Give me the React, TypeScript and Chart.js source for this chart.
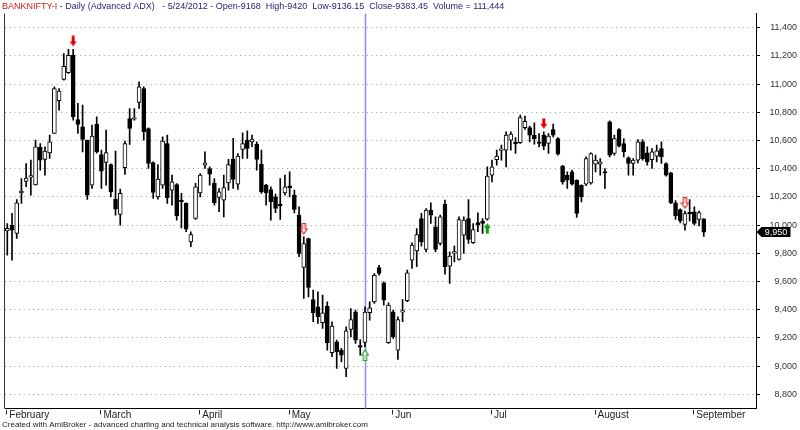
import React, { useEffect, useRef } from 'react';
import { Chart, registerables } from 'chart.js';

Chart.register(...registerables);

// ---- data (daily OHLC, BANKNIFTY-I, Feb..Sep 2012) ----
const opens = [
  9960, 9998, 9941, 10229, 10310, 10340, 10286, 10551, 10466, 10513,
  10650, 10882, 11033, 11082, 11205, 10749, 10697, 10603, 10284, 10716,
  10501, 10444, 10430, 10184, 10076, 10407, 10756, 10751, 10870, 10969,
  10685, 10444, 10201, 10284, 10579, 10248, 10288, 10172, 10154, 9882,
  10047, 10229, 10425, 10402, 10296, 10196, 10177, 10300, 10468, 10291,
  10537, 10603, 10591, 10574, 10433, 10284, 10253, 10201, 10145, 10229,
  10279, 10213, 10071, 9700, 9905, 9473, 9421, 9308, 9426, 9095,
  9173, 9114, 8984, 9260, 9386, 9145, 9168, 9379, 9456, 9700,
  9591, 9166, 9386, 9114, 9383, 9464, 9752, 9818, 10047, 9828,
  10106, 9988, 9870, 10149, 9710, 9802, 9757, 9929, 10047, 9875,
  10019, 10028, 10043, 10354, 10465, 10530, 10532, 10602, 10582, 10584,
  10692, 10692, 10638, 10591, 10638, 10579, 10678, 10614, 10418, 10354,
  10378, 10319, 10283, 10290, 10300, 10432, 10432, 10376, 10732, 10508,
  10678, 10579, 10477, 10437, 10461, 10591, 10513, 10465, 10489, 10543,
  10437, 10371, 10158, 10111, 10005, 10085, 10094, 10040, 10045,
];
const highs = [
  10012, 10083, 10182, 10331, 10437, 10461, 10603, 10579, 10556, 10638,
  10981, 10969, 11217, 11246, 11246, 10863, 10851, 10603, 10709, 10768,
  10532, 10674, 10435, 10525, 10255, 10596, 10827, 10827, 11016, 10981,
  10690, 10449, 10430, 10626, 10638, 10355, 10295, 10225, 10158, 9953,
  10296, 10366, 10520, 10414, 10331, 10260, 10355, 10466, 10615, 10508,
  10655, 10669, 10638, 10591, 10532, 10290, 10272, 10220, 10331, 10355,
  10378, 10248, 10130, 9917, 9908, 9539, 9527, 9504, 9456, 9315,
  9185, 9126, 9279, 9409, 9397, 9189, 9420, 9456, 9657, 9716,
  9598, 9450, 9398, 9350, 9473, 9681, 9875, 9976, 10083, 10118,
  10158, 10059, 10071, 10177, 9811, 9851, 10059, 10059, 10182, 10012,
  10088, 10047, 10414, 10461, 10532, 10567, 10662, 10662, 10621, 10780,
  10773, 10702, 10725, 10650, 10662, 10650, 10716, 10621, 10425, 10378,
  10390, 10322, 10286, 10484, 10513, 10496, 10472, 10402, 10739, 10638,
  10685, 10614, 10484, 10472, 10607, 10607, 10555, 10543, 10567, 10591,
  10442, 10374, 10175, 10115, 10100, 10182, 10130, 10100, 10047,
];
const lows = [
  9787, 9752, 9906, 10154, 10272, 10213, 10284, 10390, 10355, 10473,
  10650, 10815, 11028, 11075, 10745, 10650, 10520, 10182, 10260, 10510,
  10260, 10284, 10201, 10071, 10000, 10359, 10572, 10744, 10827, 10603,
  10402, 10189, 10184, 10260, 10154, 10142, 10036, 9981, 9953, 9847,
  10040, 10201, 10402, 10284, 10142, 10095, 10059, 10248, 10260, 10253,
  10473, 10473, 10556, 10390, 10225, 10142, 10036, 10088, 10040, 10213,
  10201, 10087, 9776, 9480, 9492, 9315, 9303, 9267, 9114, 9067,
  8984, 9031, 8925, 9208, 9161, 9078, 9136.15, 9327, 9445, 9646,
  9433, 9161, 9197, 9048, 9315, 9457, 9693, 9705, 9851, 9811,
  10012, 9811, 9858, 9653, 9587, 9740, 9752, 9799, 9870, 9870,
  9953, 9941, 10036, 10307, 10425, 10461, 10413, 10532, 10508, 10579,
  10678, 10591, 10574, 10555, 10536, 10508, 10626, 10496, 10291, 10260,
  10283, 10054, 10165, 10280, 10290, 10378, 10354, 10260, 10484, 10496,
  10555, 10484, 10354, 10354, 10442, 10461, 10425, 10402, 10449, 10437,
  10347, 10153, 10040, 10016, 9965, 10030, 10000, 9995, 9920,
];
const closes = [
  9977, 9965, 10158, 10241, 10333, 10347, 10556, 10461, 10525, 10591,
  10969, 10950, 11127, 11205, 10768, 10714, 10608, 10213, 10631, 10520,
  10383, 10515, 10236, 10114, 10225, 10579, 10685, 10760, 10981, 10662,
  10437, 10232, 10326, 10596, 10194, 10307, 10066, 10166, 9972, 9934,
  10272, 10355, 10442, 10362, 10158, 10236, 10267, 10430, 10324, 10489,
  10579, 10544, 10610, 10466, 10236, 10229, 10166, 10118, 10138, 10272,
  10265, 10111, 9799, 9870, 9558, 9379, 9350, 9379, 9166, 9284,
  9102, 9078, 9251, 9331, 9185, 9135, 9383.45, 9414, 9646, 9657,
  9468, 9433, 9209, 9331, 9390, 9662, 9858, 9934, 9882, 10106,
  10071, 9828, 10059, 9705, 9780, 9810, 10040, 10036, 9899, 9969,
  10000, 10012, 10348, 10413, 10489, 10537, 10638, 10645, 10576, 10763,
  10737, 10638, 10614, 10579, 10560, 10631, 10638, 10503, 10307, 10319,
  10291, 10083, 10201, 10472, 10508, 10461, 10449, 10370, 10496, 10614,
  10560, 10520, 10437, 10461, 10591, 10472, 10449, 10520, 10527, 10484,
  10354, 10158, 10065, 10030, 10082, 10080, 10012, 10090, 9950,
];

const monthLabels = ['February', 'March', 'April', 'May', 'Jun', 'Jul', 'August', 'September'];
const monthStartIdx = [0, 20, 41, 60, 82, 103, 125, 146];
const yTicks = [8800, 9000, 9200, 9400, 9600, 9800, 10000, 10200, 10400, 10600, 10800, 11000, 11200, 11400];

const sellIdx = [14, 114];
const sellWeakIdx = [63, 144];
const buyIdx = [102];
const buyWeakIdx = [76];

const selectedIdx = 76;
const selectedDate = '5/24/2012';
const selectedVolume = '111,444';
const symbolName = 'BANKNIFTY-I';
const chartName = 'Daily (Advanced ADX)';
const footerText = 'Created with AmiBroker - advanced charting and technical analysis software. http://www.amibroker.com';

const FONT = "'Liberation Sans', Arial, sans-serif";

function makeArrow(up: boolean, fill: string, stroke: string | null): HTMLCanvasElement {
  const gap = 3;
  const len = 11;
  const head = 5;
  const w = 9;
  const h = 2 * (gap + len);
  const c = document.createElement('canvas');
  c.width = w;
  c.height = h;
  const g = c.getContext('2d')!;
  const cx = 4.5;
  const pts: number[][] = [
    [cx - 1.5, 0.5], [cx + 1.5, 0.5], [cx + 1.5, len - head], [cx + 3.5, len - head],
    [cx, len], [cx - 3.5, len - head], [cx - 1.5, len - head],
  ];
  const top = h / 2 - gap - len;
  g.beginPath();
  pts.forEach(([px, py], k) => {
    let y = top + py;
    if (up) y = h - y;
    if (k === 0) g.moveTo(px, y);
    else g.lineTo(px, y);
  });
  g.closePath();
  g.fillStyle = fill;
  g.fill();
  if (stroke) {
    g.strokeStyle = stroke;
    g.lineWidth = 1.2;
    g.stroke();
  }
  return c;
}

const fmt = (v: number) => v.toLocaleString('en-US', { maximumFractionDigits: 2 });

const decorPlugin = {
  id: 'decor',
  beforeDatasetsDraw(chart: any) {
    const { ctx, chartArea, scales } = chart;
    const x = Math.round(scales.x.getPixelForValue(selectedIdx)) + 0.5;
    ctx.save();
    ctx.strokeStyle = 'rgb(140,140,235)';
    ctx.lineWidth = 1.5;
    ctx.beginPath();
    ctx.moveTo(x, chartArea.top);
    ctx.lineTo(x, chartArea.bottom);
    ctx.stroke();
    ctx.restore();
  },
  afterDraw(chart: any) {
    const { ctx, chartArea, scales } = chart;
    ctx.save();
    // left frame line
    ctx.strokeStyle = '#333';
    ctx.lineWidth = 1;
    ctx.beginPath();
    ctx.moveTo(Math.round(chartArea.left) - 0.5, chartArea.top);
    ctx.lineTo(Math.round(chartArea.left) - 0.5, chartArea.bottom);
    ctx.stroke();

    // month tick marks beside labels
    ctx.strokeStyle = '#222';
    monthStartIdx.forEach((i) => {
      const x = Math.round(scales.x.getPixelForValue(i)) - 0.5;
      ctx.beginPath();
      ctx.moveTo(x, chartArea.bottom + 1.5);
      ctx.lineTo(x, chartArea.bottom + 6);
      ctx.stroke();
    });

    // last price label
    const last = closes[closes.length - 1];
    const y = Math.round(scales.y.getPixelForValue(last));
    const x0 = chartArea.right + 0.5;
    ctx.fillStyle = '#000';
    ctx.beginPath();
    ctx.moveTo(x0, y);
    ctx.lineTo(x0 + 5, y - 5);
    ctx.lineTo(x0 + 34, y - 5);
    ctx.lineTo(x0 + 34, y + 5);
    ctx.lineTo(x0 + 5, y + 5);
    ctx.closePath();
    ctx.fill();
    ctx.fillStyle = '#fff';
    ctx.font = `9px ${FONT}`;
    ctx.textAlign = 'center';
    ctx.textBaseline = 'middle';
    ctx.fillText(fmt(last), x0 + 19.5, y + 0.5);

    // title
    ctx.textAlign = 'left';
    ctx.textBaseline = 'alphabetic';
    ctx.font = `9px ${FONT}`;
    ctx.fillStyle = '#d01818';
    ctx.fillText(symbolName, 2, 9);
    const w1 = ctx.measureText(symbolName).width;
    const rest = ` - ${chartName}   - ${selectedDate} - Open-${opens[selectedIdx]}  High-${highs[selectedIdx]}  Low-${lows[selectedIdx]}  Close-${closes[selectedIdx]}  Volume = ${selectedVolume}`;
    ctx.fillStyle = '#25257a';
    ctx.fillText(rest, 2 + w1, 9);

    // footer
    ctx.font = `8px 'Liberation Sans Narrow', ${FONT}`;
    ctx.fillStyle = '#222';
    ctx.fillText(footerText, 2, 427);
    ctx.restore();
  },
};

export default function App() {
  const ref = useRef<HTMLCanvasElement | null>(null);

  useEffect(() => {
    if (!ref.current) return;
    const n = opens.length;
    const idx = Array.from({ length: n }, (_, i) => i);
    const bodies = idx.map((i) => ({ x: i, y: [Math.min(opens[i], closes[i]), Math.max(opens[i], closes[i])] }));
    const wicks = idx.map((i) => ({ x: i, y: [lows[i], highs[i]] }));
    const bodyColors = idx.map((i) => (closes[i] >= opens[i] ? '#ffffff' : '#000000'));

    const sellImg = makeArrow(false, '#e00000', null);
    const sellWeakImg = makeArrow(false, '#ffffff', '#e01818');
    const buyImg = makeArrow(true, '#109a10', null);
    const buyWeakImg = makeArrow(true, '#ffffff', '#1a9a1a');

    const chart = new Chart(ref.current, {
      type: 'bar',
      data: {
        datasets: [
          {
            type: 'scatter',
            data: sellIdx.map((i) => ({ x: i, y: highs[i] })),
            pointStyle: sellImg as any,
            order: 0,
          } as any,
          {
            type: 'scatter',
            data: sellWeakIdx.map((i) => ({ x: i, y: highs[i] })),
            pointStyle: sellWeakImg as any,
            order: 0,
          } as any,
          {
            type: 'scatter',
            data: buyIdx.map((i) => ({ x: i, y: lows[i] })),
            pointStyle: buyImg as any,
            order: 0,
          } as any,
          {
            type: 'scatter',
            data: buyWeakIdx.map((i) => ({ x: i, y: lows[i] })),
            pointStyle: buyWeakImg as any,
            order: 0,
          } as any,
          {
            type: 'bar',
            data: bodies as any,
            backgroundColor: bodyColors,
            borderColor: '#000',
            borderWidth: 1,
            borderSkipped: false,
            barThickness: 4,
            minBarLength: 1.5,
            grouped: false,
            order: 1,
          } as any,
          {
            type: 'bar',
            data: wicks as any,
            backgroundColor: '#000',
            borderWidth: 0,
            barThickness: 1,
            grouped: false,
            order: 2,
          } as any,
        ],
      },
      options: {
        animation: false,
        responsive: false,
        devicePixelRatio: 1,
        events: [],
        layout: { padding: { top: 13.6, left: 1, right: 3, bottom: 0 } },
        plugins: {
          legend: { display: false },
          tooltip: { enabled: false },
        },
        scales: {
          x: {
            type: 'linear',
            position: 'bottom',
            offset: false,
            min: -0.49,
            max: 159.1,
            grid: { display: false, drawTicks: false, offset: false },
            border: { display: true, color: '#000', width: 1 },
            afterBuildTicks: (s: any) => {
              s.ticks = monthStartIdx.map((v) => ({ value: v }));
            },
            afterFit: (s: any) => {
              s.height = 21.5;
              s.paddingLeft = 0;
              s.paddingRight = 0;
            },
            ticks: {
              autoSkip: false,
              maxRotation: 0,
              minRotation: 0,
              align: 'start',
              padding: 1,
              color: '#222',
              font: { family: FONT, size: 10 },
              callback: (_v: any, i: number) => '\u2009' + monthLabels[i],
            },
          },
          y: {
            type: 'linear',
            position: 'right',
            min: 8700,
            max: 11500,
            afterBuildTicks: (s: any) => {
              s.ticks = yTicks.map((v) => ({ value: v }));
            },
            afterFit: (s: any) => {
              s.width = 41;
            },
            grid: {
              color: '#9a9a9a',
              lineWidth: 1,
              drawTicks: true,
              tickLength: 4,
              tickColor: '#000',
              tickWidth: 1,
              tickBorderDash: [],
            },
            border: { display: true, color: '#000', width: 1, dash: [1, 3.7] },
            ticks: {
              crossAlign: 'far',
              padding: 2,
              color: '#333',
              font: { family: FONT, size: 9 },
              callback: (v: any) => Number(v).toLocaleString('en-US'),
            },
          },
        },
      } as any,
      plugins: [decorPlugin],
    });
    return () => chart.destroy();
  }, []);

  return (
    <div style={{ position: 'absolute', left: 0, top: 0, width: 800, height: 430, background: '#fff' }}>
      <canvas ref={ref} width={800} height={430} style={{ display: 'block' }} />
    </div>
  );
}
